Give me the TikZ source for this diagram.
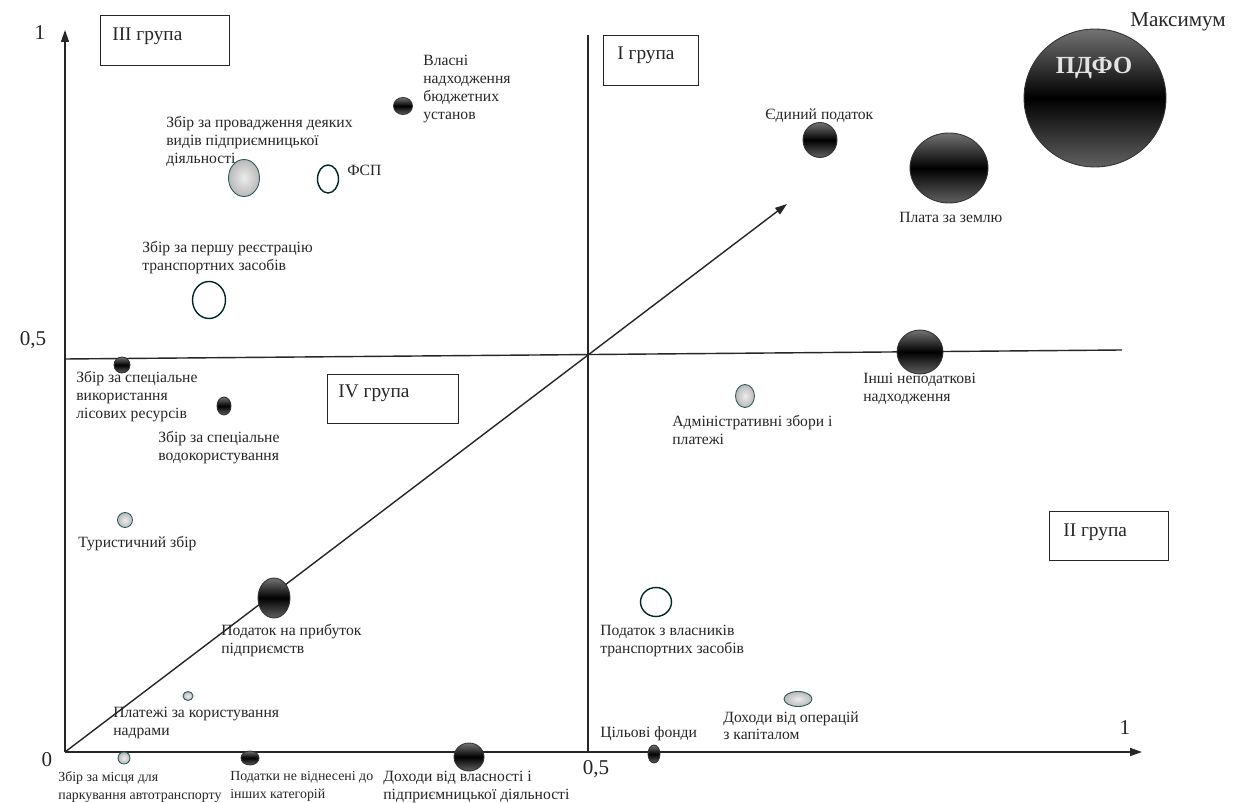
\documentclass[tikz,border=0pt]{standalone}
\usepackage{fontspec}
\setmainfont{Liberation Serif}
\usetikzlibrary{shapes.geometric,arrows.meta}
\begin{document}
\begin{tikzpicture}[x=0.02cm,y=-0.02cm,
  lbl/.style={font=\fontsize{8.9}{10.2}\selectfont, align=left, inner sep=0pt, anchor=north west, text=black!85},
  lblsm/.style={lbl, font=\fontsize{7.9}{10.2}\selectfont},
  axlbl/.style={font=\fontsize{12}{14}\selectfont, inner sep=0pt, text=black!85},
  grpbox/.style={draw=black!85, line width=0.8pt, fill=white, inner sep=0pt, anchor=north west},
  grptxt/.style={font=\fontsize{11}{13}\selectfont, inner sep=0pt, anchor=west, text=black!85},
  axis/.style={draw=black!85, line width=0.8pt},
  tip/.style={-{Triangle[length=2.4mm,width=1.6mm]}},
  bub/.style={ellipse, inner sep=0pt, outer sep=0pt},
  darkb/.style={bub, draw=black!80, line width=0.5pt, top color=black!55, bottom color=black!62, middle color=black},
  greyb/.style={bub, draw=gray!50!teal!70!black, line width=0.5pt, inner color=gray!15, outer color=gray!55},
  whiteb/.style={bub, draw=teal!30!black, line width=0.8pt, fill=white}]
\useasboundingbox[fill=white] (0,0) rectangle (1237,803);

% axes and dividing lines
\coordinate (O) at (65,752);
\coordinate (Ytop) at (65,30);
\coordinate (Xend) at (1142,752);
\coordinate (Vtop) at (588,35);
\coordinate (Vbot) at (588,752);
\coordinate (Hl) at (65,359);
\coordinate (Hr) at (1122,350);
\coordinate (Dend) at (787,204);
\draw[axis] (Hl) -- (Hr);
\draw[axis] (Vtop) -- (Vbot);
\draw[axis,tip] (O) -- (Dend);
\draw[axis,tip] (O) -- (Ytop);
\draw[axis,tip] (O) -- (Xend);

% axis labels
\node[axlbl] (y1) at (40,33) {1};
\node[axlbl] (y05) at (33,340) {0,5};
\node[axlbl] (x0) at (47,760) {0};
\node[axlbl] (x05) at (596,769) {0,5};
\node[axlbl] (x1) at (1125,728) {1};

% group boxes
\node[grpbox, minimum width=2.58cm, minimum height=1.0cm] (g3) at (100,15) {};
\node[grptxt] (g3t) at (112,36) {III група};
\node[grpbox, minimum width=1.9cm, minimum height=1.0cm] (g1) at (603,35) {};
\node[grptxt] (g1t) at (617,55) {I група};
\node[grpbox, minimum width=2.62cm, minimum height=0.98cm] (g4) at (327,374) {};
\node[grptxt] (g4t) at (338,393) {IV група};
\node[grpbox, minimum width=2.38cm, minimum height=0.98cm] (g2) at (1049,511) {};
\node[grptxt] (g2t) at (1063,532) {II група};

% bubbles
\node[darkb, minimum width=2.84cm, minimum height=2.76cm] (pdfo) at (1095,98) {};
\node[font=\bfseries\fontsize{14}{16}\selectfont, text=gray!22, inner sep=0pt] (pdfot) at (1094,68) {ПДФО};
\node[font=\fontsize{12}{14}\selectfont, inner sep=0pt, text=black!85] (max) at (1178,22) {Максимум};
\node[darkb, minimum width=1.56cm, minimum height=1.40cm] (zem) at (949,168) {};
\node[darkb, minimum width=0.68cm, minimum height=0.70cm] (yed) at (820,140) {};
\node[darkb, minimum width=0.92cm, minimum height=0.88cm] (inshi) at (920,352) {};
\node[greyb, minimum width=0.38cm, minimum height=0.46cm] (adm) at (745,396) {};
\node[whiteb, minimum width=0.62cm, minimum height=0.58cm] (trz) at (656,602) {};
\node[greyb, minimum width=0.56cm, minimum height=0.30cm] (kap) at (798,699) {};
\node[darkb, minimum width=0.24cm, minimum height=0.36cm] (tsil) at (654,754) {};
\node[darkb, minimum width=0.60cm, minimum height=0.56cm] (vlas) at (469,757) {};
\node[darkb, minimum width=0.36cm, minimum height=0.28cm] (nevid) at (250,758) {};
\node[greyb, minimum width=0.24cm, minimum height=0.24cm] (park) at (124,758) {};
\node[greyb, minimum width=0.20cm, minimum height=0.18cm] (nadra) at (188,696) {};
\node[darkb, minimum width=0.64cm, minimum height=0.80cm] (pryb) at (274,598) {};
\node[greyb, minimum width=0.30cm, minimum height=0.30cm] (tur) at (125,520) {};
\node[darkb, minimum width=0.28cm, minimum height=0.36cm] (voda) at (224,406) {};
\node[darkb, minimum width=0.32cm, minimum height=0.32cm] (lis) at (122,365) {};
\node[whiteb, minimum width=0.66cm, minimum height=0.74cm] (reye) at (209,300) {};
\node[greyb, minimum width=0.62cm, minimum height=0.74cm] (prov) at (244,178) {};
\node[whiteb, minimum width=0.42cm, minimum height=0.56cm] (fsp) at (328,179) {};
\node[darkb, minimum width=0.38cm, minimum height=0.34cm] (vlasni) at (403,106) {};

% labels
\node[lbl] (l_yed) at (765,108) {Єдиний податок};
\node[lbl] (l_zem) at (899,212) {Плата за землю};
\node[lbl] (l_inshi) at (863,373) {Інші неподаткові\\надходження};
\node[lbl] (l_adm) at (672,415) {Адміністративні збори і\\платежі};
\node[lbl] (l_trz) at (600,625) {Податок з власників\\транспортних засобів};
\node[lbl] (l_kap) at (723,711) {Доходи від операцій\\з капіталом};
\node[lbl] (l_tsil) at (600,726) {Цільові фонди};
\node[lbl] (l_vlas) at (383,771) {Доходи від власності і\\підприємницької діяльності};
\node[lblsm] (l_nevid) at (230,771) {Податки не віднесені до\\інших категорій};
\node[lblsm] (l_park) at (58,771) {Збір за місця для\\паркування автотранспорту};
\node[lbl] (l_nadra) at (113,707) {Платежі за користування\\надрами};
\node[lbl] (l_pryb) at (221,624) {Податок на прибуток\\підприємств};
\node[lbl] (l_tur) at (78,536) {Туристичний збір};
\node[lbl] (l_voda) at (158,431) {Збір за спеціальне\\водокористування};
\node[lbl] (l_lis) at (76,371) {Збір за спеціальне\\використання\\лісових ресурсів};
\node[lbl] (l_reye) at (142,241) {Збір за першу реєстрацію\\транспортних засобів};
\node[lbl] (l_prov) at (166,116) {Збір за провадження деяких\\видів підприємницької\\діяльності};
\node[lbl] (l_fsp) at (347,165) {ФСП};
\node[lbl] (l_vlasni) at (423,55) {Власні\\надходження\\бюджетних\\установ};
\end{tikzpicture}
\end{document}
